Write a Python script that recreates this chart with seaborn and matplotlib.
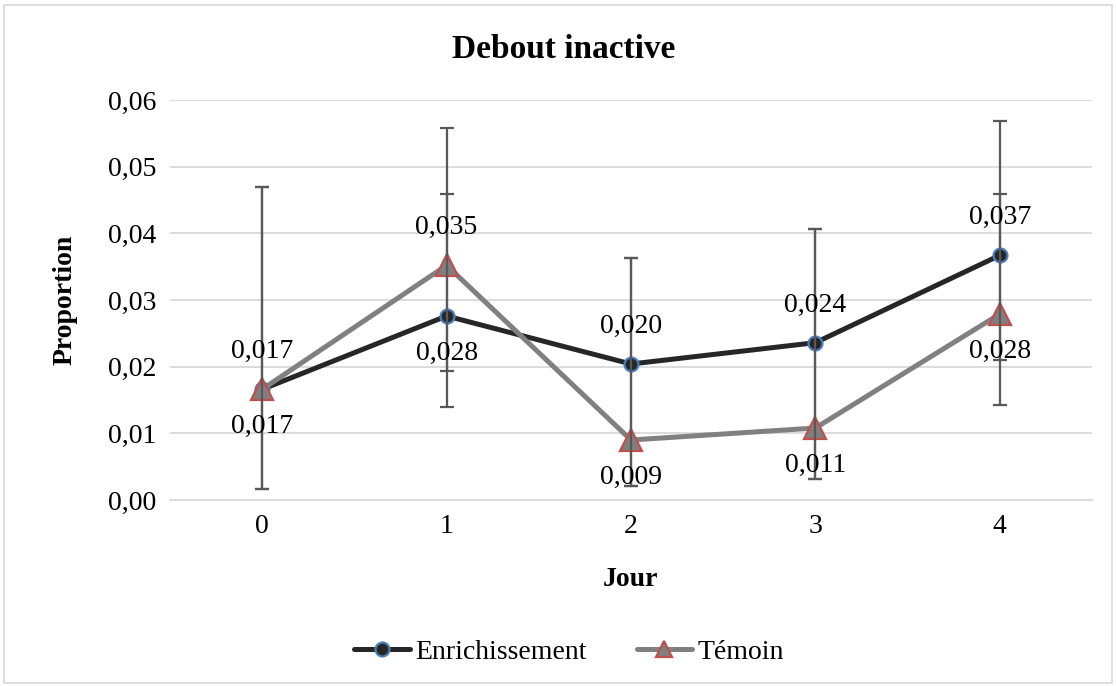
import matplotlib
matplotlib.use("Agg")
import matplotlib.pyplot as plt
import seaborn as sns
import pandas as pd
from matplotlib.patches import Rectangle
from matplotlib.lines import Line2D

# data
jours = [0, 1, 2, 3, 4]
enrichissement = [0.0166, 0.0276, 0.0204, 0.0236, 0.0367]
temoin = [0.0166, 0.0352, 0.0090, 0.0108, 0.0279]

# error bar ends (lower / upper), read per day
enrich_low = [0.0017, 0.0193, 0.0021, 0.0031, 0.0210]
enrich_high = [0.0470, 0.0459, 0.0363, 0.0407, 0.0568]
temoin_low = [0.0017, 0.0140, 0.0021, 0.0031, 0.0142]
temoin_high = [0.0470, 0.0558, 0.0363, 0.0407, 0.0459]

yticks = [0.00, 0.01, 0.02, 0.03, 0.04, 0.05, 0.06]

sns.set_style("white")
plt.rcParams['font.family'] = ['Liberation Serif', 'DejaVu Serif']
plt.rcParams['text.color'] = 'black'
plt.rcParams['axes.labelcolor'] = 'black'
plt.rcParams['xtick.color'] = 'black'
plt.rcParams['ytick.color'] = 'black'

fig = plt.figure(figsize=(11.16, 6.86), dpi=100)
ax = fig.add_axes([170 / 1116, 1 - 500 / 686, 922 / 1116, 400 / 686])

# outer chart border
fig.patches.append(Rectangle((0.004, 0.005), 0.992, 0.988, transform=fig.transFigure,
                             fill=False, edgecolor='#d9d9d9', lw=1.2))

df = pd.DataFrame({'Jour': jours, 'Enrichissement': enrichissement, 'Témoin': temoin})

err_col = '#595959'
enrich_style = dict(color='#262626', lw=3.6, marker='o', markerfacecolor='#262626',
                    markeredgecolor='#4a7ebb', markeredgewidth=1.6)
temoin_style = dict(color='#808080', lw=3.6, marker='^', markerfacecolor='#7f7f7f',
                    markeredgecolor='#c0504d', markeredgewidth=1.6)


def draw_err(y, low, high, z):
    yerr = [[v - l for v, l in zip(y, low)], [h - v for v, h in zip(y, high)]]
    ax.errorbar(jours, y, yerr=yerr, fmt='none', ecolor=err_col, elinewidth=1.6,
                capsize=5, capthick=1.6, zorder=z)


draw_err(enrichissement, enrich_low, enrich_high, 2)
sns.lineplot(data=df, x='Jour', y='Enrichissement', ax=ax, markersize=10, zorder=3,
             legend=False, **enrich_style)
sns.lineplot(data=df, x='Jour', y='Témoin', ax=ax, markersize=16, zorder=4,
             legend=False, **temoin_style)
draw_err(temoin, temoin_low, temoin_high, 5)

# data labels: higher value above, lower below (Enrichissement above on a tie)
for x, a, b in zip(jours, enrichissement, temoin):
    for v, up in ((a, a >= b), (b, b > a)):
        ax.annotate(f"{v:.3f}".replace('.', ','), (x, v), xytext=(0, 27 if up else -27),
                    textcoords='offset points', ha='center', va='center', fontsize=20,
                    zorder=6)

ax.set_xlim(-0.5, 4.5)
ax.set_ylim(0, 0.06)
ax.set_xticks(jours)
ax.set_yticks(yticks)
ax.set_yticklabels([f"{t:.2f}".replace('.', ',') for t in yticks])
ax.tick_params(axis='both', labelsize=20, length=0, pad=10)
ax.grid(axis='y', color='#d9d9d9', lw=1.3)
ax.set_axisbelow(True)
for s in ['top', 'right', 'left']:
    ax.spines[s].set_visible(False)
ax.spines['bottom'].set_color('#d9d9d9')
ax.spines['bottom'].set_linewidth(1.3)

ax.set_xlabel('Jour', fontsize=20, fontweight='bold', labelpad=20)
ax.set_ylabel('Proportion', fontsize=20, fontweight='bold', labelpad=22)
fig.text(564 / 1116, 1 - 49 / 686, 'Debout inactive', fontsize=24, fontweight='bold',
         ha='center', va='center')

handles = [Line2D([], [], markersize=10, **enrich_style),
           Line2D([], [], markersize=11, **temoin_style)]
fig.legend(handles, ['Enrichissement', 'Témoin'], loc='center',
           bbox_to_anchor=(0.51, 1 - 652 / 686), ncol=2, frameon=False, fontsize=20,
           handlelength=2.0, handletextpad=0.2, columnspacing=1.8)

fig.savefig('out.png', dpi=100)
